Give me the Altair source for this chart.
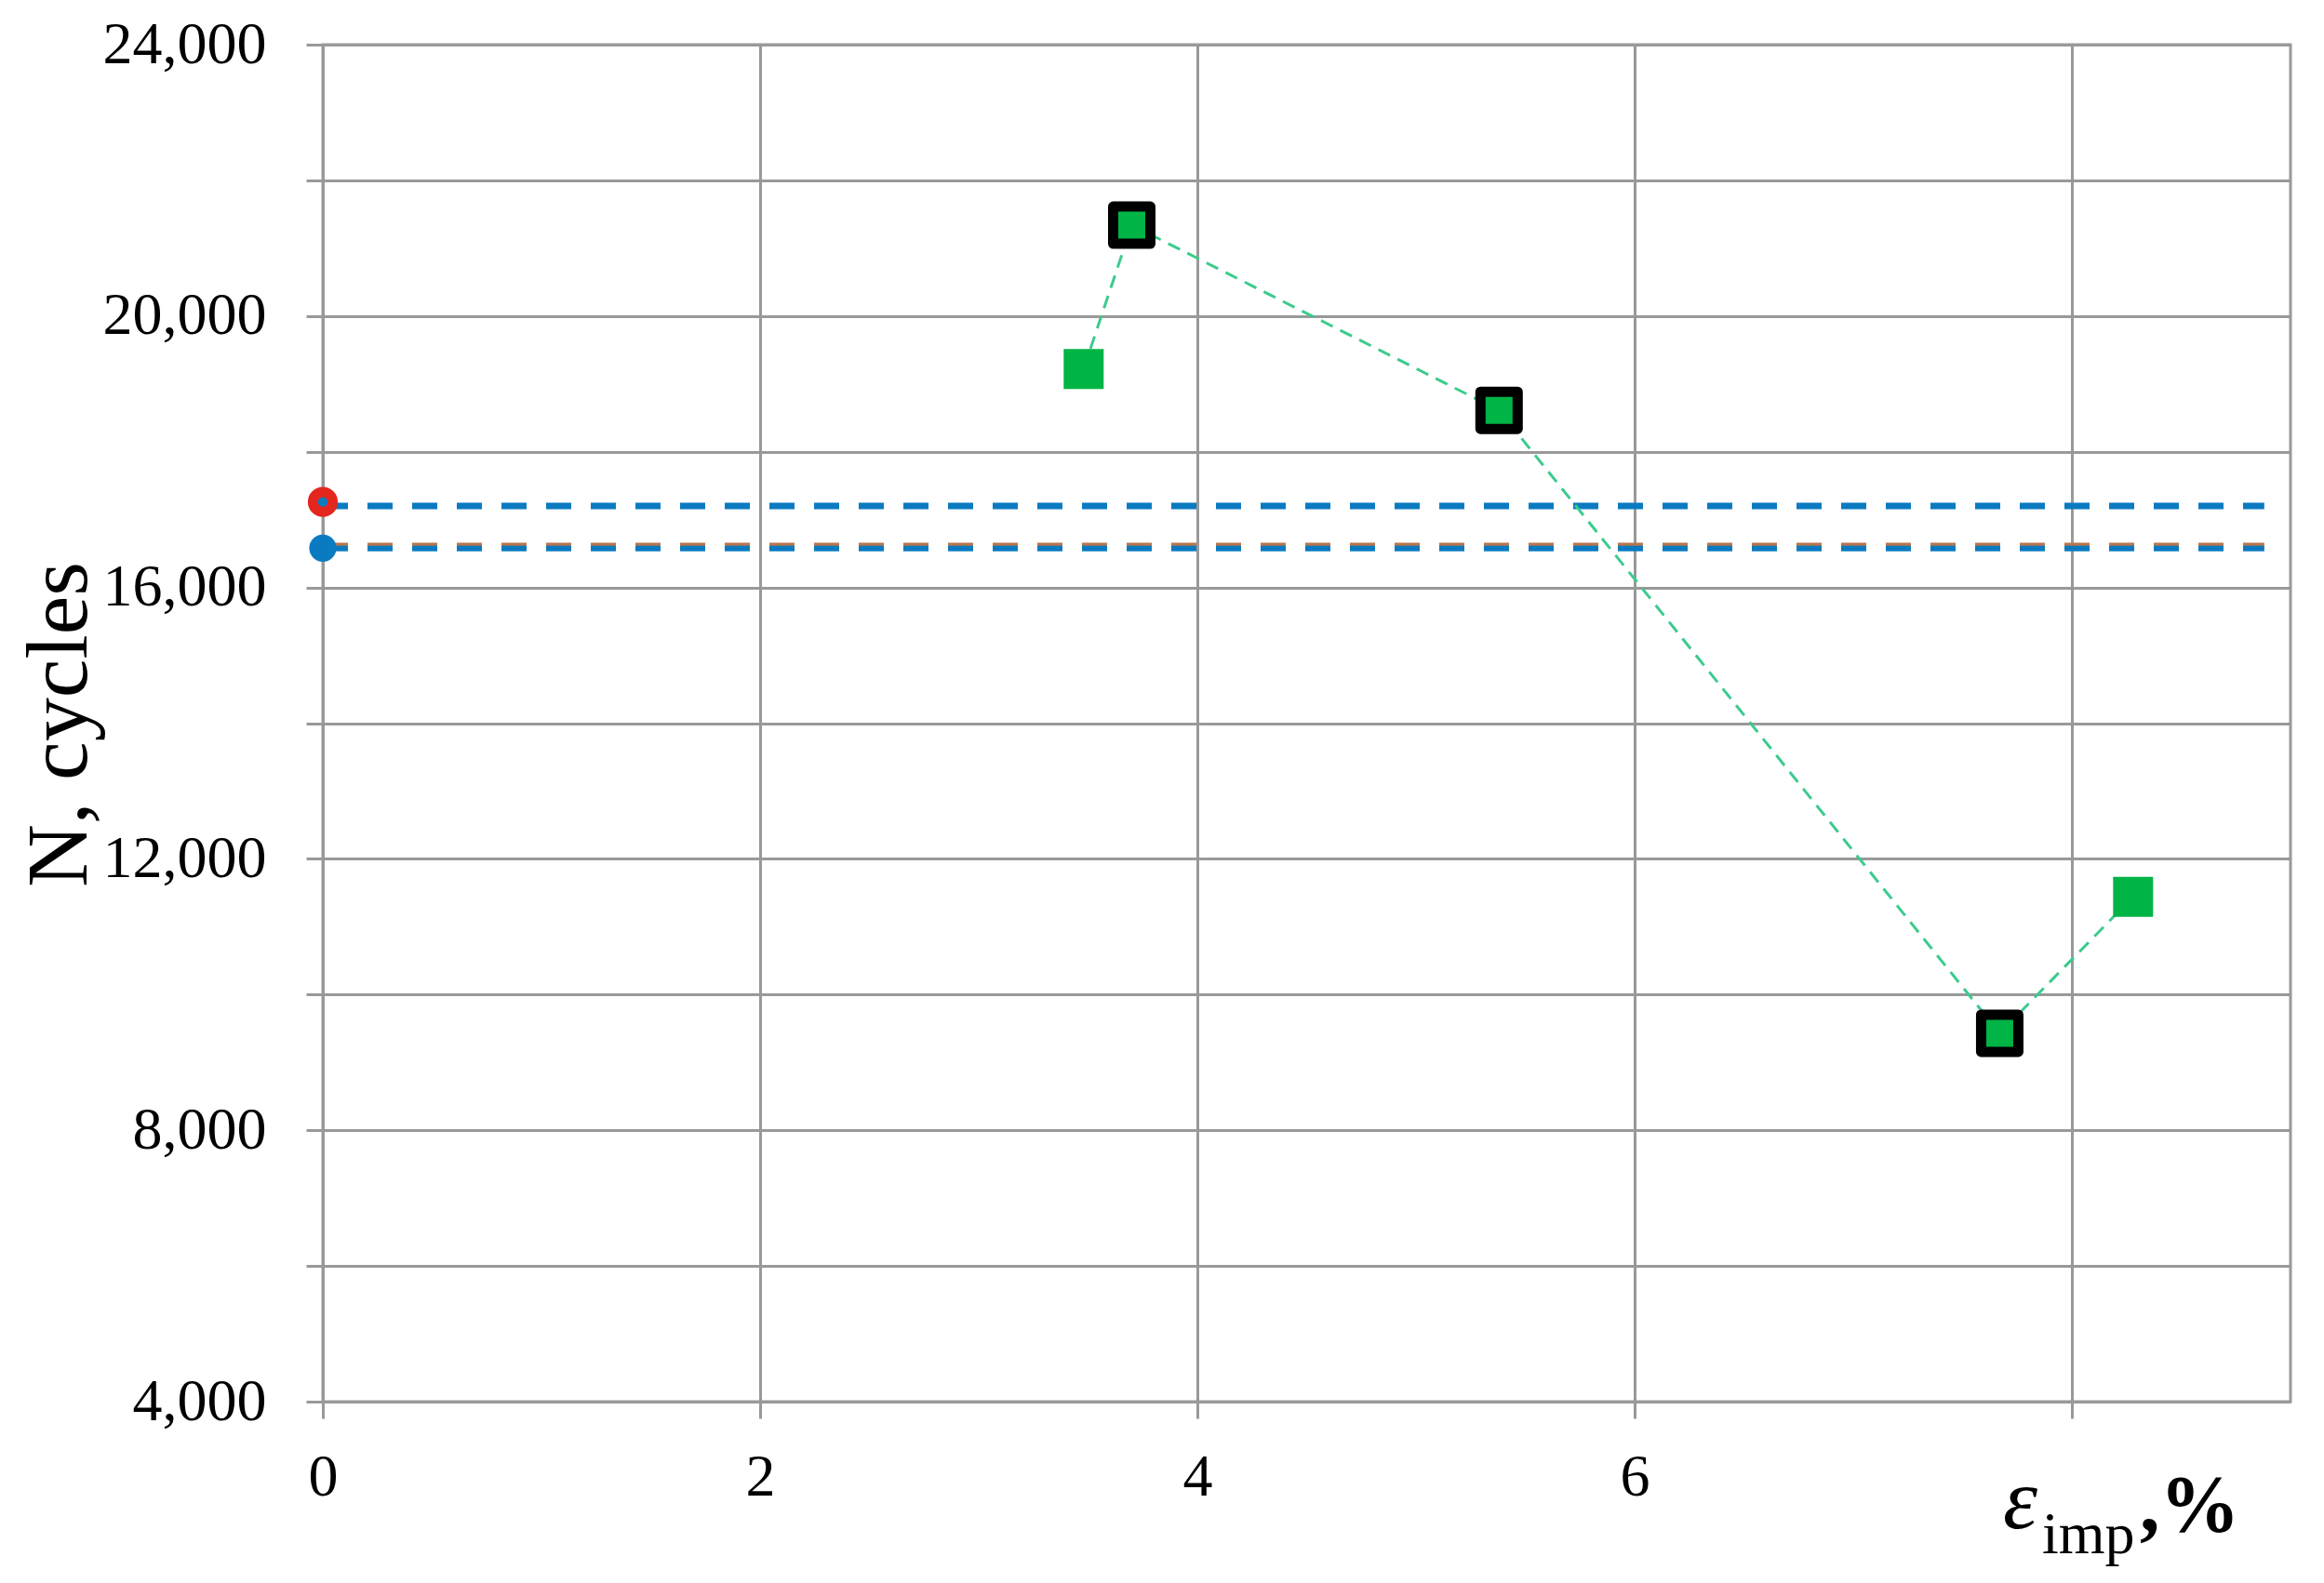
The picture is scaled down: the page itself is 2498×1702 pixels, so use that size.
import altair as alt
import pandas as pd

# Test series (green squares, connected by dashed line)
strain_pct = [3.48, 3.70, 5.38, 7.67, 8.28]
cycles = [19220, 21340, 18610, 9430, 11440]
outlined = [False, True, True, True, False]

# Reference points at zero strain
ref_strain = [0, 0]
ref_cycles = [17260, 16580]
ref_kind = ["ringed", "plain"]

# Reference horizontal dashed levels
level_start = [0, 0, 0]
level_end = [8.88, 8.88, 8.88]
level_cycles = [17200, 16610, 16575]
level_name = ["blue_up", "brown_low", "blue_low"]

x_ticks = [0, 2, 4, 6, 8]
y_ticks = list(range(4000, 24001, 2000))

W, H = 2115, 1459
FONT = "Liberation Serif"
GREEN = "#00B446"
LINE_GREEN = "#3CCB8C"
BLUE = "#0B7BC1"
BROWN = "#B9764E"
RED = "#E3261E"
GRID = "#999999"

df = pd.DataFrame({"x": strain_pct, "n": cycles, "outlined": outlined})
df_ref = pd.DataFrame({"x": ref_strain, "n": ref_cycles, "kind": ref_kind})
df_lvl = pd.DataFrame({"x0": level_start, "x1": level_end, "n": level_cycles, "name": level_name})

xscale = alt.Scale(domain=[0, 9], nice=False, zero=False)
yscale = alt.Scale(domain=[4000, 24000], nice=False, zero=False)

xaxis = alt.Axis(values=x_ticks, grid=True, gridColor=GRID, gridWidth=3, tickSize=18,
                 tickColor=GRID, tickWidth=3, domain=False, labelFontSize=64, labelFont=FONT,
                 labelColor="black", labelPadding=31, labelFlush=False, title=None, format="d",
                 labelExpr="datum.value == 8 ? '' : datum.label")
yaxis = alt.Axis(values=y_ticks, grid=True, gridColor=GRID, gridWidth=3, tickSize=18,
                 tickColor=GRID, tickWidth=3, domain=False, labelFontSize=64, labelFont=FONT,
                 labelColor="black", labelPadding=43, labelFlush=False, format=",d",
                 labelExpr="datum.value % 4000 == 0 ? datum.label : ''",
                 title="N, cycles", titleFont=FONT, titleFontSize=94, titleFontWeight="normal",
                 titleColor="black", titleAngle=-90, titleAlign="center",
                 titleBaseline="alphabetic", titleX=-255, titleY=H / 2 + 1)

base_axes = alt.Chart(df).mark_point(opacity=0).encode(
    x=alt.X("x:Q", scale=xscale, axis=xaxis),
    y=alt.Y("n:Q", scale=yscale, axis=yaxis),
)

def level(name, color, width):
    return alt.Chart(df_lvl).transform_filter(alt.datum.name == name).mark_rule(
        color=color, strokeWidth=width, strokeDash=[27, 21]
    ).encode(x=alt.X("x0:Q", scale=xscale), x2="x1:Q", y=alt.Y("n:Q", scale=yscale))

lvl_brown = level("brown_low", BROWN, 7)
lvl_blue_low = level("blue_low", BLUE, 6)
lvl_blue_up = level("blue_up", BLUE, 7)

green_line = alt.Chart(df).mark_line(color=LINE_GREEN, strokeWidth=3, strokeDash=[14, 9]).encode(
    x=alt.X("x:Q", scale=xscale), y=alt.Y("n:Q", scale=yscale), order="x:Q")

sq_plain = alt.Chart(df).transform_filter("!datum.outlined").mark_point(
    shape="square", filled=True, fill=GREEN, size=1849, opacity=1, strokeWidth=0
).encode(x=alt.X("x:Q", scale=xscale), y=alt.Y("n:Q", scale=yscale))

sq_out = alt.Chart(df).transform_filter("datum.outlined").mark_point(
    shape="square", filled=True, fill=GREEN, size=1600, opacity=1, stroke="black",
    strokeWidth=11, strokeJoin="round"
).encode(x=alt.X("x:Q", scale=xscale), y=alt.Y("n:Q", scale=yscale))

c_ring = alt.Chart(df_ref).transform_filter(alt.datum.kind == "ringed").mark_point(
    shape="circle", filled=True, fill=BLUE, size=452, opacity=1, stroke=RED, strokeWidth=11
).encode(x=alt.X("x:Q", scale=xscale), y=alt.Y("n:Q", scale=yscale))

c_plain = alt.Chart(df_ref).transform_filter(alt.datum.kind == "plain").mark_point(
    shape="circle", filled=True, fill=BLUE, size=855, opacity=1, strokeWidth=0
).encode(x=alt.X("x:Q", scale=xscale), y=alt.Y("n:Q", scale=yscale))

one = alt.Data(values=[{"a": 1}])
t_eps = alt.Chart(one).mark_text(text="ε", font=FONT, fontSize=94, fontStyle="italic",
                                 align="left", baseline="alphabetic", color="black").encode(
    x=alt.value(1806), y=alt.value(1595))
t_imp = alt.Chart(one).mark_text(text="imp", font=FONT, fontSize=64,
                                 align="left", baseline="alphabetic", color="black").encode(
    x=alt.value(1848), y=alt.value(1622))
t_pct = alt.Chart(one).mark_text(text=",%", font=FONT, fontSize=86, fontWeight="bold",
                                 align="left", baseline="alphabetic", color="black").encode(
    x=alt.value(1953), y=alt.value(1598))

chart = alt.layer(
    base_axes, lvl_brown, lvl_blue_low, lvl_blue_up, green_line,
    sq_plain, sq_out, c_ring, c_plain, t_eps, t_imp, t_pct
).properties(
    width=W, height=H,
    autosize=alt.AutoSizeParams(type="none"),
    padding={"left": 339, "top": 40, "right": 20, "bottom": 180},
    background="white",
).configure_view(stroke=GRID, strokeWidth=3)

chart.save("out.html", embed_options={"renderer": "svg", "actions": False})
